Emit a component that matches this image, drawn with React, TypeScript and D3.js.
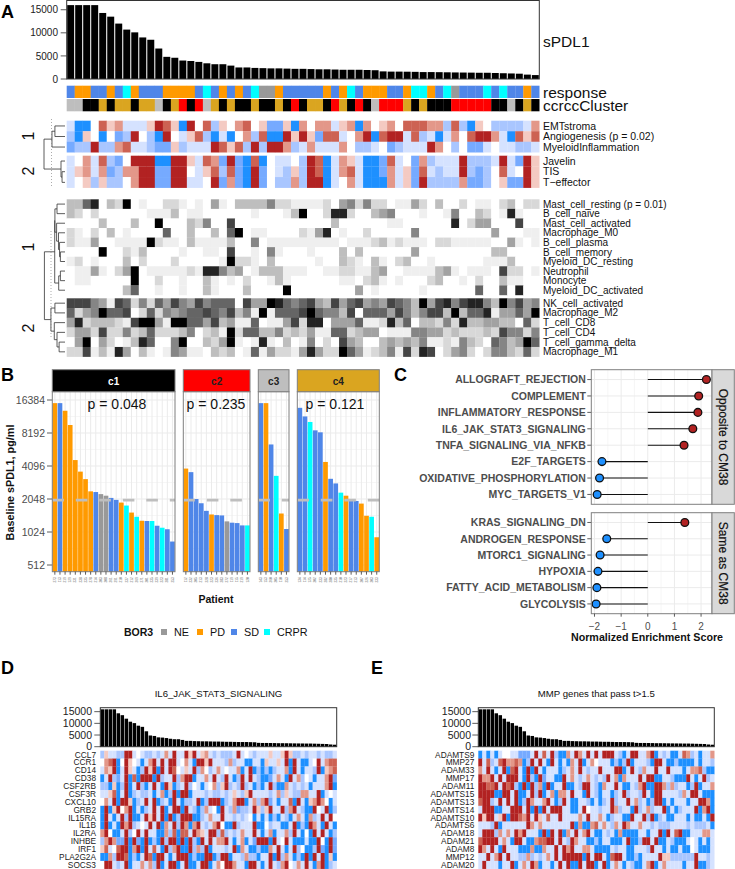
import React from "react";
import * as d3 from "d3";

// ---- panel A data (59 patients, sorted by sPDL1) ----
const sPDL1 = [16000, 16000, 16000, 16000, 14300, 13500, 12000, 10700, 10100, 9000, 8500, 6600, 4800, 4600, 4000, 3900, 3700, 3400, 3200, 3200, 2900, 2500, 2500, 2400, 2350, 2300, 2300, 2250, 2200, 2200, 2150, 2100, 2100, 2050, 2000, 2000, 2000, 1950, 1900, 1650, 1600, 1600, 1580, 1550, 1500, 1500, 1480, 1450, 1420, 1400, 1380, 1350, 1350, 1300, 1250, 1200, 1150, 950, 850];
const responseTrack = "SOOSSOSCOSSSOOOOSCSOSOSCNNOSSSSSOSOCSOOOSSOCCOSCNSSSCSCSSOS";
const clusterTrack = "ggkkykyykyygkyrkrgykykkykkykrkyykrykrkgrrrykykkkrrrrrkkgkyk";

const pathwayNames = ["EMTstroma", "Angiogenesis (p = 0.02)", "MyeloidInflammation"];
const pathwayValues = [
  "300475633358750847254674511506" + "46635606456477766272054222236",
  "205404128420843572030462700858" + "51773468078837230364788630757",
  "122822673321152333875728288623" + "63336422341233386424113433223",
];
const effectorNames = ["Javelin", "TIS", "T\u2212effector"];
const effectorValues = [
  "346372148880088537618107043342" + "87036530017341623338222383185",
  "356361266881188435727108143252" + "87036730016351732338212473485",
  "345252246881188334816108142262" + "88034630006351822226112451185",
];
const immuneNames1 = ["Mast_cell_resting (p = 0.01)", "B_cell_naive", "Mast_cell_activated", "Macrophage_M0", "B_cell_plasma", "B_cell_memory", "Myeloid_DC_resting", "Neutrophil", "Monocyte", "Myeloid_DC_activated"];
const immuneValues1 = [
  "336803290100221010410333352211" + "11204525220114203002011023022",
  "320200000011130110000001000139" + "00288200345000100150032018100",
  "000030003009000325007000000000" + "00030000001100000080244000700",
  "210203010000600300306901100002" + "14801002000005000000000400011",
  "211400111192110311113005011111" + "11110111231211102211111004101",
  "000090021300001001107001051000" + "10003030000004000000000330000",
  "120100030200020000019221030000" + "01003210310230010000001113000",
  "011410249011111218853401333111" + "00112211340011113410111072201",
  "011000009002001003101020013100" + "00001102310100023001020031100",
  "000000036001001003100030000900" + "00000040100000100000060060800",
];
const immuneNames2 = ["NK_cell_activated", "Macrophage_M2", "T_cell_CD8", "T_cell_CD4", "T_cell_gamma_delta", "Macrophage_M1"];
const immuneValues2 = [
  "777541762526475475666074498656" + "74374674547653947857885395745",
  "624596670262545667657351916667" + "96553706664753577393668144649",
  "482333217994199664734116011472" + "88044461128360332528334433062",
  "244272252362223502319266335232" + "41166234401115544232223275525",
  "049042013860059003249101810301" + "50207430034343511215320653496",
  "227131840310154110323016142214" + "84229641235172870245202553262",
];

// ---- panel B data ----
const bor3Levels = ["NE", "PD", "SD", "CRPR"];
const c1Values = [15340, 15340, 13070, 9690, 4640, 3640, 3110, 2405, 2370, 2270, 2195, 2095, 2010, 1900, 1785, 1540, 1410, 1297, 1290, 1290, 1168, 1120, 1085, 838];
const c1Bor = "OSOOOOOOSNNSSOCOCOSCSCSS";
const c2Values = [3880, 3600, 2048, 1873, 1597, 1480, 1460, 1450, 1280, 1245, 1235, 1176, 1176];
const c2Bor = "OSSSSOSSNSSSC";
const c3Values = [15340, 15340, 6440, 3330, 1510, 1090];
const c3Bor = "SOSCOS";
const c4Values = [13900, 11600, 10330, 8660, 8310, 4460, 3130, 2840, 2340, 2195, 2010, 1965, 1860, 1440, 1410, 917];
const c4Bor = "SSCSSOSSCOSSOOCO";
const c1Ids = ["273", "113", "219", "129", "231", "238", "235", "278", "214", "203", "208", "261", "291", "210", "237", "212", "269", "271", "201", "235", "239", "223", "281", "253"];
const c2Ids = ["112", "232", "205", "213", "228", "223", "236", "283", "272", "119", "115", "219", "120"];
const c3Ids = ["143", "153", "260", "205", "110", "253"];
const c4Ids = ["134", "114", "125", "202", "233", "282", "280", "235", "210", "223", "217", "213", "207", "226", "203", "233"];
const pValues = ["p = 0.048", "p = 0.235", "", "p = 0.121"];
const yTicksB = [512, 1024, 2048, 4096, 8192, 16384];
const yMinorB = [724, 1448, 2896, 5793, 11585];

// ---- panel C data ----
const oppositeNames = ["ALLOGRAFT_REJECTION", "COMPLEMENT", "INFLAMMATORY_RESPONSE", "IL6_JAK_STAT3_SIGNALING", "TNFA_SIGNALING_VIA_NFKB", "E2F_TARGETS", "OXIDATIVE_PHOSPHORYLATION", "MYC_TARGETS_V1"];
const oppositeNES = [2.2, 1.91, 1.88, 1.69, 1.36, -1.72, -1.81, -1.9];
const sameNames = ["KRAS_SIGNALING_DN", "ANDROGEN_RESPONSE", "MTORC1_SIGNALING", "HYPOXIA", "FATTY_ACID_METABOLISM", "GLYCOLYSIS"];
const sameNES = [1.39, -1.54, -1.79, -1.87, -1.91, -1.94];

// ---- panels D, E data ----
const il6Genes = ["CCL7", "CCR1", "CD14", "CD38", "CSF2RB", "CSF3R", "CXCL10", "GRB2", "IL15RA", "IL1B", "IL2RA", "INHBE", "IRF1", "PLA2G2A", "SOCS3"];
const il6Values = [
  "2533228834" + "3223236383" + "3858356323" + "2223834323" + "3353358522" + "323323223",
  "4678048543" + "0368383883" + "4630885833" + "3262330033" + "0533538083" + "003483677",
  "3658038530" + "2858083874" + "3538264236" + "3433603802" + "0202336083" + "033280567",
  "0382138070" + "8880823382" + "6880336383" + "2830283832" + "0013630836" + "243033681",
  "2205028038" + "2038308502" + "3824303462" + "5823282302" + "0382006323" + "230333680",
  "3357038023" + "2230360280" + "8803332322" + "3235325833" + "3323625322" + "663380343",
  "4638088502" + "3838023083" + "0223802888" + "0236880362" + "6813033708" + "305686403",
  "0805846803" + "0238380388" + "0832026340" + "8326122385" + "2583382683" + "200843802",
  "0830382800" + "3858380802" + "8880023633" + "8332323403" + "0302032036" + "306238384",
  "0803086823" + "4383806382" + "8606832368" + "4008233380" + "0423300380" + "208630830",
  "6840038248" + "3833006270" + "7738653882" + "7232363383" + "0360336283" + "040838302",
  "2686118081" + "0802082880" + "8082083836" + "6830360318" + "8808348300" + "030084081",
  "5734788068" + "0837308268" + "0082628033" + "3238063002" + "0063830382" + "400281081",
  "0062887020" + "3870883038" + "8802008802" + "8803326220" + "3380826302" + "080838050",
  "4883238033" + "6362803880" + "3800388036" + "4886330883" + "0383268436" + "383068023",
];
const mmpGenes = ["ADAMTS9", "MMP27", "ADAM33", "MMP17", "ADAM11", "ADAMTS15", "ADAMTS13", "ADAMTS14", "ADAMTS10", "ADAMTS6", "ADAM18", "ADAM21", "ADAM8", "MMP12", "ADAM20"];
const mmpValues = [
  "0303034433" + "1113837382" + "0063863838" + "3888320388" + "3368032300" + "376230336",
  "8372378667" + "6028383083" + "0306380364" + "3330202803" + "3320883002" + "000030332",
  "6383038078" + "3080830333" + "0236383233" + "8333880383" + "2633833833" + "303667200",
  "8668383888" + "3082081330" + "0836323632" + "3283606333" + "8388003320" + "008303823",
  "8877838782" + "0808260803" + "3800328832" + "0633830032" + "6800886262" + "330280336",
  "8888008838" + "0038280360" + "6638330832" + "0330238233" + "2830883333" + "263883000",
  "7882383838" + "0286336830" + "2830033203" + "0238233836" + "2302880303" + "330338860",
  "3888003388" + "8380808388" + "8330038433" + "2338623308" + "2362338030" + "233380680",
  "8588358088" + "7683853733" + "8333363833" + "6302330083" + "3828023003" + "330300308",
  "3332803333" + "3386363333" + "3338060067" + "3632638633" + "6332322233" + "332322230",
  "3888263638" + "6833308083" + "8063836830" + "0323060000" + "3303380837" + "800333663",
  "7888836308" + "8300677883" + "8328633002" + "0330003800" + "2883800320" + "003430303",
  "8638308333" + "0006006338" + "3868336630" + "0003233003" + "3328330300" + "300430003",
  "3383683833" + "2262323638" + "3888880838" + "8307883002" + "0333385522" + "222283323",
  "3833303380" + "3638603303" + "8380083880" + "3803630320" + "0368036333" + "303380023",
];

const FONT = "'Liberation Sans', Arial, sans-serif";
const SD_BLUE = "#4f86e8";
const borColor: Record<string, string> = { N: "#999999", O: "#ff9a00", S: SD_BLUE, C: "#00ffff" };
const borByLevel: Record<string, string> = { NE: "N", PD: "O", SD: "S", CRPR: "C" };
const clusterColor: Record<string, string> = { g: "#bebebe", k: "#000000", y: "#daa520", r: "#ff0000" };
const nPatients = sPDL1.length;
const patients = d3.range(nPatients);

// colorRamp2-like ramps are interpolated in Lab
const heatColor = d3.scaleLinear<string>().domain([0, 4, 8]).range(["#1e90ff", "#ffffff", "#b22222"]).interpolate(d3.interpolateLab as any);
const greyColor = d3.scalePow<string>().exponent(1.25).domain([0, 9]).range(["#ffffff", "#000000"]);

type TreeNode = number | { h: number; kids: [TreeNode, TreeNode] };
const pathwayTree: TreeNode = {
  h: 1,
  kids: [
    { h: 0.62, kids: [{ h: 0.48, kids: [0, 1] }, 2] },
    { h: 0.19, kids: [3, { h: 0.14, kids: [4, 5] }] },
  ],
};
const immuneTree: TreeNode = {
  h: 0.98,
  kids: [
    {
      h: 0.49,
      kids: [
        {
          h: 0.48,
          kids: [
            { h: 0.38, kids: [0, 1] },
            { h: 0.4, kids: [2, { h: 0.31, kids: [3, { h: 0.26, kids: [4, { h: 0.22, kids: [5, 6] }] }] }] },
          ],
        },
        { h: 0.3, kids: [{ h: 0.22, kids: [7, 8] }, 9] },
      ],
    },
    {
      h: 0.67,
      kids: [
        { h: 0.48, kids: [10, 11] },
        { h: 0.51, kids: [12, { h: 0.38, kids: [13, { h: 0.28, kids: [14, 15] }] }] },
      ],
    },
  ],
};

function treePath(node: TreeNode, xOf: (h: number) => number, yOf: (i: number) => number) {
  if (typeof node === "number") return { x: xOf(0), y: yOf(node), d: "" };
  const a = treePath(node.kids[0], xOf, yOf);
  const b = treePath(node.kids[1], xOf, yOf);
  const x = xOf(node.h);
  const p = d3.path();
  p.moveTo(a.x, a.y);
  p.lineTo(x, a.y);
  p.lineTo(x, b.y);
  p.lineTo(b.x, b.y);
  return { x, y: (a.y + b.y) / 2, d: a.d + b.d + p.toString() };
}

function Heat({ x0, x1, y0, rowH, names, rows, color, labelX, labelSize, anchor = "start", labelColor = "#111" }: any) {
  const xs = d3.scaleBand<number>().domain(patients).range([x0, x1]);
  const ys = d3.scaleBand<string>().domain(names).range([y0, y0 + rowH * names.length]);
  return (
    <g>
      {names.map((name: string, r: number) => (
        <g key={name}>
          {patients.map((c) => (
            <rect key={c} x={xs(c)} y={ys(name)} width={xs.bandwidth() + 0.2} height={ys.bandwidth() + 0.2} fill={color(+rows[r][c])} />
          ))}
          <text x={labelX} y={ys(name)! + ys.bandwidth() / 2} dy="0.36em" fontSize={labelSize} textAnchor={anchor} fill={labelColor}>{name}</text>
        </g>
      ))}
    </g>
  );
}

function TopBars({ x0, x1, yTop, yBottom, maxY, ticks, tickSize, labelRight }: any) {
  const xs = d3.scaleBand<number>().domain(patients).range([x0, x1]).paddingInner(0.13).paddingOuter(0.06);
  const ys = d3.scaleLinear().domain([0, maxY]).range([yBottom, yTop]);
  return (
    <g>
      {patients.map((i) => (
        <rect key={i} x={xs(i)} y={ys(sPDL1[i])} width={xs.bandwidth()} height={yBottom - ys(sPDL1[i])} fill="#000" />
      ))}
      <rect x={x0} y={yTop} width={x1 - x0} height={yBottom - yTop} fill="none" stroke="#333" strokeWidth={1} />
      {ticks.map((t: number) => (
        <g key={t}>
          <line x1={x0 - 6} x2={x0} y1={ys(t)} y2={ys(t)} stroke="#333" strokeWidth={0.8} />
          <text x={labelRight} y={ys(t)} dy="0.36em" textAnchor="end" fontSize={tickSize} fill="#222">{t}</text>
        </g>
      ))}
    </g>
  );
}

function PanelA() {
  const xs = d3.scaleBand<number>().domain(patients).range([66.7, 539.3]);
  const pathwayY = d3.scaleBand<number>().domain([0, 1, 2]).range([120.7, 152.3]);
  const effectorY = d3.scaleBand<number>().domain([3, 4, 5]).range([155.7, 187.7]);
  const imm1Y = d3.scaleBand<number>().domain(d3.range(10)).range([199.3, 295]);
  const imm2Y = d3.scaleBand<number>().domain(d3.range(10, 16)).range([298.3, 356.7]);
  const treeX = d3.scaleLinear().domain([0, 1]).range([65, 44]);
  const pt = treePath(pathwayTree, treeX, (i) => (i < 3 ? pathwayY(i)! + pathwayY.bandwidth() / 2 : effectorY(i)! + effectorY.bandwidth() / 2));
  const it = treePath(immuneTree, treeX, (i) => (i < 10 ? imm1Y(i)! + imm1Y.bandwidth() / 2 : imm2Y(i)! + imm2Y.bandwidth() / 2));
  return (
    <g>
      <TopBars x0={66.7} x1={539.3} yTop={0.5} yBottom={79} maxY={17000} ticks={[0, 5000, 10000, 15000]} tickSize={10} labelRight={58} />
      <text x={543} y={41} dy="0.36em" fontSize={15.5} fill="#111">sPDL1</text>
      {patients.map((i) => (
        <g key={i}>
          <rect x={xs(i)} y={85.7} width={xs.bandwidth() + 0.2} height={12.3} fill={borColor[responseTrack[i]]} />
          <rect x={xs(i)} y={99} width={xs.bandwidth() + 0.2} height={12.3} fill={clusterColor[clusterTrack[i]]} />
        </g>
      ))}
      <text x={543} y={92} dy="0.36em" fontSize={15.5} fill="#111">response</text>
      <text x={543} y={105} dy="0.36em" fontSize={15.5} fill="#111">ccrccCluster</text>

      <Heat x0={66.7} x1={539.3} y0={120.7} rowH={10.53} names={pathwayNames} rows={pathwayValues} color={heatColor} labelX={543} labelSize={10.5} />
      <Heat x0={66.7} x1={539.3} y0={155.7} rowH={10.67} names={effectorNames} rows={effectorValues} color={heatColor} labelX={543} labelSize={10.5} />
      <Heat x0={66.7} x1={539.3} y0={199.3} rowH={9.57} names={immuneNames1} rows={immuneValues1} color={greyColor} labelX={543} labelSize={10} />
      <Heat x0={66.7} x1={539.3} y0={298.3} rowH={9.73} names={immuneNames2} rows={immuneValues2} color={greyColor} labelX={543} labelSize={10} />

      <path d={pt.d} fill="none" stroke="#333" strokeWidth={0.8} />
      <path d={it.d} fill="none" stroke="#333" strokeWidth={0.8} />
      <line x1={51.5} x2={51.5} y1={119} y2={188} stroke="#888" strokeWidth={0.7} strokeDasharray="1,2" />
      <line x1={51} x2={51} y1={231} y2={337} stroke="#888" strokeWidth={0.7} strokeDasharray="1,2" />
      {[{ l: "1", y: 136 }, { l: "2", y: 171 }, { l: "1", y: 247 }, { l: "2", y: 328 }].map((d, i) => (
        <text key={i} transform={`translate(28,${d.y}) rotate(-90)`} textAnchor="middle" dy="0.36em" fontSize={16} fill="#111">{d.l}</text>
      ))}
    </g>
  );
}

function PanelB() {
  const yScale = d3.scaleLog().base(2).domain([512, 16384]).range([565, 400]);
  const top = 391.7;
  const bottom = 571.7;
  const facets = [
    { name: "c1", x0: 52.3, x1: 175, pX: 117, values: c1Values, bor: c1Bor, ids: c1Ids, fill: "#000000", text: "#fff" },
    { name: "c2", x0: 183.3, x1: 250, pX: 216, values: c2Values, bor: c2Bor, ids: c2Ids, fill: "#ff0000", text: "#222" },
    { name: "c3", x0: 258.3, x1: 289, pX: 0, values: c3Values, bor: c3Bor, ids: c3Ids, fill: "#bebebe", text: "#222" },
    { name: "c4", x0: 297.3, x1: 379.3, pX: 335, values: c4Values, bor: c4Bor, ids: c4Ids, fill: "#daa520", text: "#222" },
  ];
  return (
    <g>
      {yTicksB.map((t) => (
        <g key={t}>
          <line x1={47} x2={52.3} y1={yScale(t)} y2={yScale(t)} stroke="#333" strokeWidth={0.8} />
          <text x={45} y={yScale(t)} dy="0.36em" textAnchor="end" fontSize={10.5} fill="#4d4d4d">{t}</text>
        </g>
      ))}
      {facets.map((f, fi) => {
        const xs = d3.scaleBand<number>().domain(d3.range(f.values.length)).range([f.x0, f.x1]).paddingInner(0.08).paddingOuter(0.04);
        const mid = (f.x0 + f.x1) / 2;
        return (
          <g key={f.name}>
            {yTicksB.map((t) => <line key={t} x1={f.x0} x2={f.x1} y1={yScale(t)} y2={yScale(t)} stroke="#ebebeb" strokeWidth={1} />)}
            {yMinorB.map((t) => <line key={t} x1={f.x0} x2={f.x1} y1={yScale(t)} y2={yScale(t)} stroke="#f2f2f2" strokeWidth={0.7} />)}
            {f.values.map((_, i) => (
              <line key={i} x1={xs(i)! + xs.bandwidth() / 2} x2={xs(i)! + xs.bandwidth() / 2} y1={top} y2={bottom} stroke="#ebebeb" strokeWidth={1} />
            ))}
            {f.values.map((v, i) => (
              <rect key={i} x={xs(i)} y={yScale(v)} width={xs.bandwidth()} height={bottom - yScale(v)} fill={borColor[f.bor[i]]} />
            ))}
            <line x1={f.x0} x2={f.x1} y1={yScale(2000)} y2={yScale(2000)} stroke="#bebebe" strokeWidth={2.6} strokeDasharray="11.6,11.9" />
            <rect x={f.x0} y={top} width={f.x1 - f.x0} height={bottom - top} fill="none" stroke="#7f7f7f" strokeWidth={1} />
            <rect x={f.x0} y={369.7} width={f.x1 - f.x0} height={top - 369.7} fill={f.fill} stroke="#7f7f7f" strokeWidth={1} />
            <text x={mid} y={381} dy="0.36em" textAnchor="middle" fontSize={10} fontWeight="bold" fill={f.text}>{f.name}</text>
            {pValues[fi] && <text x={f.pX} y={404} dy="0.36em" textAnchor="middle" fontSize={14} fill="#111">{pValues[fi]}</text>}
            {f.ids.map((id, i) => {
              const cx = xs(i)! + xs.bandwidth() / 2;
              return (
                <g key={i}>
                  <line x1={cx} x2={cx} y1={bottom} y2={bottom + 3} stroke="#333" strokeWidth={0.8} />
                  <text transform={`translate(${cx},${bottom + 5.5}) rotate(-90)`} dy="0.36em" textAnchor="end" fontSize={3.2} fill="#666">{id}</text>
                </g>
              );
            })}
          </g>
        );
      })}
      <text transform="translate(10,482.5) rotate(-90)" textAnchor="middle" dy="0.36em" fontSize={10.8} fontWeight="bold" fill="#111">Baseline sPDL1, pg/ml</text>
      <text x={216} y={599} dy="0.36em" textAnchor="middle" fontSize={10.5} fontWeight="bold" fill="#111">Patient</text>
      <text x={124} y={632} dy="0.36em" fontSize={10.5} fontWeight="bold" fill="#111">BOR3</text>
      {bor3Levels.map((lev, i) => {
        const sx = [161, 197, 231, 264][i];
        return (
          <g key={lev}>
            <rect x={sx} y={629} width={6} height={6} fill={borColor[borByLevel[lev]]} />
            <text x={sx + 13} y={632} dy="0.36em" fontSize={10.8} fill="#111">{lev}</text>
          </g>
        );
      })}
    </g>
  );
}

function LollipopPanel({ names, values, yTop, yBottom, strip, xScale, showAxis }: any) {
  const ys = d3.scalePoint<string>().domain(names).range([yTop, yBottom]).padding(0.6);
  const [x0, x1] = xScale.range();
  const ticks = [-2, -1, 0, 1, 2];
  const minor = [-1.5, -0.5, 0.5, 1.5];
  return (
    <g>
      {minor.map((t) => <line key={t} x1={xScale(t)} x2={xScale(t)} y1={yTop} y2={yBottom} stroke="#f2f2f2" strokeWidth={0.7} />)}
      {ticks.map((t) => <line key={t} x1={xScale(t)} x2={xScale(t)} y1={yTop} y2={yBottom} stroke="#ebebeb" strokeWidth={1} />)}
      {names.map((n: string) => <line key={n} x1={x0} x2={x1} y1={ys(n)} y2={ys(n)} stroke="#ebebeb" strokeWidth={1} />)}
      {names.map((n: string, i: number) => {
        const v = values[i];
        return (
          <g key={n}>
            <line x1={xScale(0)} x2={xScale(v)} y1={ys(n)} y2={ys(n)} stroke="#111" strokeWidth={1.1} />
            <circle cx={xScale(v)} cy={ys(n)} r={3.9} fill={v > 0 ? "#b22222" : "#1e90ff"} stroke="#111" strokeWidth={1.3} />
            <line x1={x0 - 4} x2={x0} y1={ys(n)} y2={ys(n)} stroke="#333" strokeWidth={0.8} />
            <text x={x0 - 5.5} y={ys(n)} dy="0.36em" textAnchor="end" fontSize={10.5} fontWeight="bold" fill="#4d4d4d">{n}</text>
          </g>
        );
      })}
      <rect x={x0} y={yTop} width={x1 - x0} height={yBottom - yTop} fill="none" stroke="#7f7f7f" strokeWidth={1} />
      <rect x={x1} y={yTop} width={22.3} height={yBottom - yTop} fill="#d9d9d9" stroke="#7f7f7f" strokeWidth={1} />
      <text transform={`translate(${x1 + 11},${(yTop + yBottom) / 2}) rotate(90)`} textAnchor="middle" dy="0.36em" fontSize={12} fill="#111" stroke="#111" strokeWidth={0.2}>{strip}</text>
      {showAxis && ticks.map((t) => (
        <g key={t}>
          <line x1={xScale(t)} x2={xScale(t)} y1={yBottom} y2={yBottom + 3} stroke="#333" strokeWidth={0.8} />
          <text x={xScale(t)} y={yBottom + 13} dy="0.36em" textAnchor="middle" fontSize={10} fill="#4d4d4d">{t < 0 ? `\u2212${-t}` : t}</text>
        </g>
      ))}
    </g>
  );
}

function PanelC() {
  const xScale = d3.scaleLinear().domain([-2.12, 2.41]).range([591.3, 712]);
  return (
    <g>
      <LollipopPanel names={oppositeNames} values={oppositeNES} yTop={369.7} yBottom={504.3} strip="Opposite to CM38" xScale={xScale} />
      <LollipopPanel names={sameNames} values={sameNES} yTop={512.7} yBottom={613.7} strip="Same as CM38" xScale={xScale} showAxis />
      <text x={647} y={637.5} dy="0.36em" textAnchor="middle" fontSize={10.7} fontWeight="bold" fill="#111">Normalized Enrichment Score</text>
    </g>
  );
}

function GenePanel({ x0, x1, title, names, rows, labelRight, tickRight }: any) {
  return (
    <g>
      <text x={(x0 + x1) / 2} y={694} dy="0.36em" textAnchor="middle" fontSize={9.6} fill="#111">{title}</text>
      <TopBars x0={x0} x1={x1} yTop={707.7} yBottom={746.7} maxY={16700} ticks={[0, 5000, 10000, 15000]} tickSize={10.5} labelRight={tickRight} />
      <Heat x0={x0} x1={x1} y0={750.7} rowH={7.87} names={names} rows={rows} color={heatColor} labelX={labelRight} labelSize={8.3} anchor="end" labelColor="#222" />
    </g>
  );
}

export default function App() {
  const letters = [
    { l: "A", x: 1, y: 18 },
    { l: "B", x: 1, y: 381 },
    { l: "C", x: 394, y: 381 },
    { l: "D", x: 1, y: 674 },
    { l: "E", x: 371, y: 674 },
  ];
  return (
    <svg width={735} height={869} viewBox="0 0 735 869" style={{ position: "absolute", left: 0, top: 0, background: "#fff" }} fontFamily={FONT}>
      <PanelA />
      <PanelB />
      <PanelC />
      <GenePanel x0={100.3} x1={336.7} title="IL6_JAK_STAT3_SIGNALING" names={il6Genes} rows={il6Values} labelRight={96} tickRight={92} />
      <GenePanel x0={478.3} x1={714.3} title={"MMP genes that pass t>1.5"} names={mmpGenes} rows={mmpValues} labelRight={474.3} tickRight={471} />
      {letters.map((d) => (
        <text key={d.l} x={d.x} y={d.y} fontSize={18} fontWeight="bold" fill="#000">{d.l}</text>
      ))}
    </svg>
  );
}
